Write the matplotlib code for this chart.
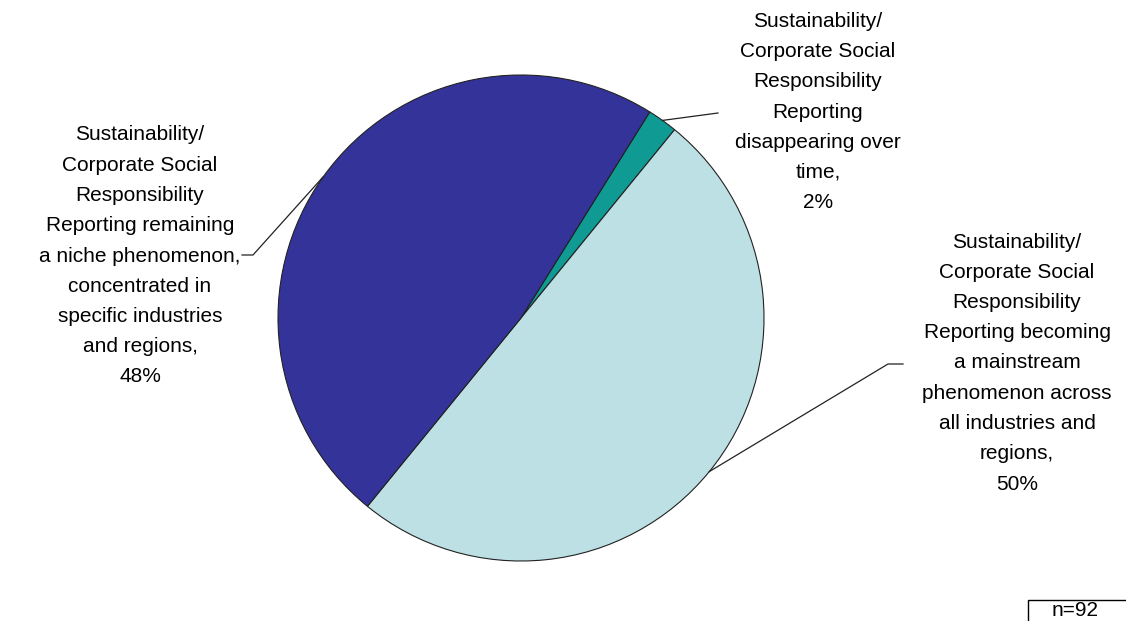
import numpy as np
import matplotlib.pyplot as plt
from matplotlib.patches import Rectangle

plt.rcParams['font.family'] = ['Liberation Sans', 'DejaVu Sans']

# Anteile der Antworten (im Uhrzeigersinn ab oben rechts)
labels = [
    "Sustainability/\nCorporate Social\nResponsibility\nReporting\ndisappearing over\ntime,\n2%",
    "Sustainability/\nCorporate Social\nResponsibility\nReporting becoming\na mainstream\nphenomenon across\nall industries and\nregions,\n50%",
    "Sustainability/\nCorporate Social\nResponsibility\nReporting remaining\na niche phenomenon,\nconcentrated in\nspecific industries\nand regions,\n48%",
]
werte = [2, 50, 48]
farben = ["#0f9b93", "#bce0e3", "#333399"]
n_text = "n=92"

W, H = 1126, 621
fig = plt.figure(figsize=(W / 100, H / 100), dpi=100)
ax = fig.add_axes([0, 0, 1, 1])
ax.axis('off')

cx, cy, r = 521, 303, 243
wedges, _ = ax.pie(werte, colors=farben, startangle=58, counterclock=False,
                   center=(cx, cy), radius=r,
                   wedgeprops=dict(edgecolor='#222222', linewidth=0.8))
ax.set_xlim(0, W)
ax.set_ylim(0, H)
ax.set_aspect('equal')

# Beschriftung: Textposition und Knick der Führungslinie (Pixel, y von unten)
text_pos = [(818, 509), (1017, 258), (140, 365)]
knick = [[(718, 508)], [(888, 257), (903, 257)], [(253, 366), (242, 366)]]

for w, lab, tp, kn in zip(wedges, labels, text_pos, knick):
    mid = np.deg2rad((w.theta1 + w.theta2) / 2)
    x0 = cx + r * np.cos(mid)
    y0 = cy + r * np.sin(mid)
    xs = [x0] + [p[0] for p in kn]
    ys = [y0] + [p[1] for p in kn]
    ax.plot(xs, ys, color='#222222', lw=0.9)
    ax.text(tp[0], tp[1], lab, ha='center', va='center', fontsize=15,
            linespacing=1.75, color='black')

# n-Kasten unten rechts (läuft über den Rand hinaus)
ax.add_patch(Rectangle((1028, -10), 110, 31, fc='white', ec='black', lw=1,
                       clip_on=False))
ax.text(1075, 10, n_text, ha='center', va='center', fontsize=15)

fig.savefig('out.png', dpi=100)
